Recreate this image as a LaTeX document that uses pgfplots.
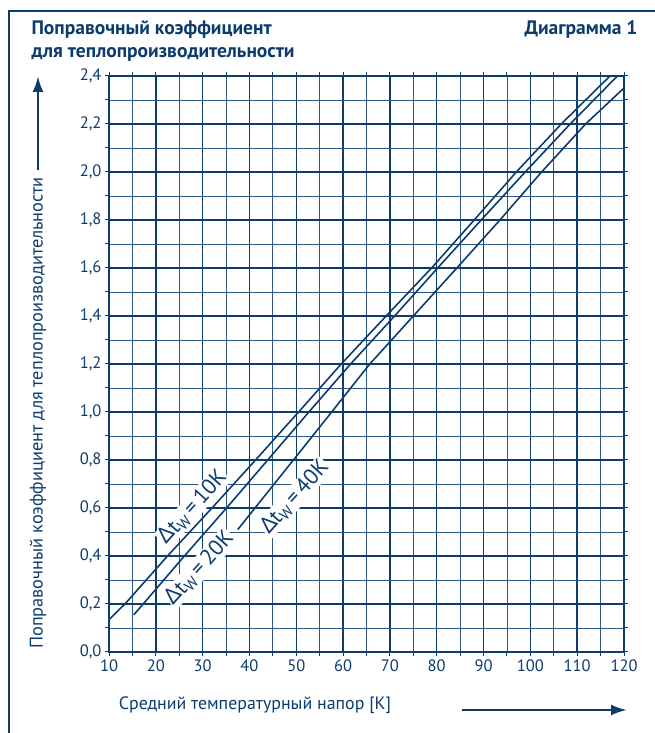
\documentclass[border=0pt]{standalone}
\usepackage{pgfplots}
\pgfplotsset{compat=1.18}
\usepackage{fontspec}
\setmainfont{PT Sans}
\newfontfamily\grk{Noto Sans}
\usetikzlibrary{arrows.meta}

\definecolor{dkblue}{RGB}{12,60,110}
\definecolor{gridblue}{RGB}{45,88,132}

\newcommand{\dtw}[1]{{\grk Δ}t\textsubscript{W}\,=\,#1K}

\begin{document}
\begin{tikzpicture}[x=1pt,y=1pt]
  \path[use as bounding box] (0,0) rectangle (655,733);
  % outer frame
  \draw[dkblue, line width=2.5pt] (9,0) -- (9,722) -- (655,722);

  \begin{axis}[
      at={(109pt,81pt)}, anchor=south west,
      scale only axis, width=515pt, height=576pt,
      xmin=10, xmax=120, ymin=0, ymax=2.4,
      xtick={10,20,...,120},
      ytick={0,0.2,0.4,0.6,0.8,1.0,1.2,1.4,1.6,1.8,2.0,2.2,2.4},
      minor x tick num=1, minor y tick num=1,
      grid=both,
      major grid style={dkblue, line width=1.4pt},
      minor grid style={gridblue, line width=0.9pt},
      axis line style={dkblue, line width=2.4pt},
      tick align=outside, major tick length=4pt, minor tick length=4pt,
      tick style={dkblue, line width=1pt},
      ticklabel style={font=\fontsize{16.5}{16.5}\selectfont, text=dkblue},
      yticklabel style={/pgf/number format/.cd, use comma, fixed, fixed zerofill, precision=1},
      /pgf/number format/assume math mode=true,
    ]

    % dt_W = 10K
    \addplot[dkblue, line width=1.6pt] coordinates {
        (10,0.135) (13.4,0.2) (22.5,0.4) (32,0.6) (41.3,0.8) (50.5,1.0)
        (59.6,1.2) (69.2,1.4) (78.9,1.6) (88,1.8) (97,2.0) (106.6,2.2) (117,2.4)
      };
    % dt_W = 20K
    \addplot[dkblue, line width=1.6pt] coordinates {
        (15.3,0.155) (17.3,0.2) (26.1,0.4) (35.1,0.6) (43.9,0.8) (52.7,1.0)
        (61.6,1.2) (71,1.4) (80.2,1.6) (89.5,1.8) (98.9,2.0) (108.5,2.2) (118.6,2.4)
      };
    % dt_W = 40K
    \addplot[dkblue, line width=1.6pt] coordinates {
        (37.5,0.51) (54.3,0.92) (65.7,1.2) (75,1.4) (84.3,1.6)
        (93.5,1.8) (102.4,2.0) (111.8,2.2) (120,2.35)
      };

    \node[rotate=48, fill=white, inner sep=1pt, text=dkblue,
      font=\fontsize{22}{22}\selectfont] at (axis cs:27.9,0.604) {\dtw{10}};
    \node[rotate=48, fill=white, inner sep=1pt, text=dkblue,
      font=\fontsize{22}{22}\selectfont] at (axis cs:29.4,0.35) {\dtw{20}};
    \node[rotate=48, fill=white, inner sep=1pt, text=dkblue,
      font=\fontsize{22}{22}\selectfont] at (axis cs:49.7,0.646) {\dtw{40}};
  \end{axis}

  % titles
  \node[anchor=base west, text=dkblue, font=\bfseries\fontsize{19.5}{19.5}\selectfont]
    at (28,698) {Поправочный коэффициент};
  \node[anchor=base west, text=dkblue, font=\bfseries\fontsize{19.5}{19.5}\selectfont]
    at (28,675) {для теплопроизводительности};
  \node[anchor=base east, text=dkblue, font=\bfseries\fontsize{19.5}{19.5}\selectfont]
    at (641,698) {Диаграмма 1};

  % axis labels with arrows
  \node[rotate=90, text=dkblue, font=\fontsize{18.3}{18.3}\selectfont]
    at (38,320) {Поправочный коэффициент для теплопроизводительности};
  \draw[dkblue, line width=2.5pt, -{Latex[length=16pt,width=11pt]}] (38,563) -- (38,657);
  \node[text=dkblue, font=\fontsize{17.9}{17.9}\selectfont]
    at (255,28) {Средний температурный напор [K]};
  \draw[dkblue, line width=2.5pt, -{Latex[length=16pt,width=11pt]}] (462,23) -- (627,23);
\end{tikzpicture}
\end{document}
